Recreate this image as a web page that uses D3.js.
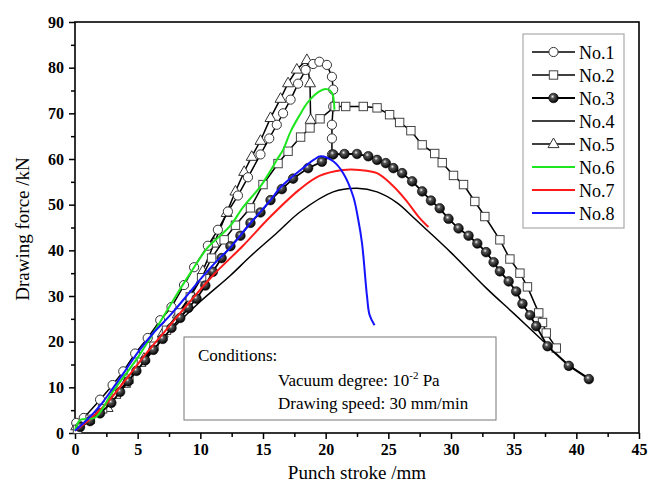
<!DOCTYPE html>
<html>
<head>
<meta charset="utf-8">
<script src="https://cdn.jsdelivr.net/npm/d3@7"></script>
<style>
  body { margin: 0; background: #fff; }
  svg text { font-family: "Liberation Serif", "Times New Roman", serif; fill: #000; }
</style>
</head>
<body>
<svg id="chart"></svg>
<script>
// series values: [stroke mm, force kN]
const no1 = [[0.1,2.2],[0.7,3.3],[2,7.3],[3,10.5],[3.85,13.5],[4.8,17.4],[5.8,20.8],[6.8,24.7],[7.7,27.6],[8.7,32.4],[9.5,36.3],[10.6,41],[11.4,44.5],[12.2,48.5],[13,52],[13.8,56],[14.8,61],[15.5,64.5],[16.1,67.5],[16.6,70],[17.2,73],[17.8,76.5],[18.4,79.5],[19,80.8],[19.5,81.3],[20.1,80.6],[20.5,78],[20.6,75.2],[20.6,71.5],[20.5,67.5],[20.5,64.5],[20.5,61]];
const no2 = [[0.2,0.8],[1.2,3],[2.2,5.3],[3.3,8.5],[4.3,11.8],[5.3,15.5],[6.3,19],[7.3,22.5],[8.3,26.3],[9.2,29.8],[10.1,34],[10.9,38.3],[11.9,42.3],[12.8,45.5],[14,49.3],[15,54.4],[16.2,59],[17,61.7],[18,64.8],[18.75,66.8],[19.55,68.8],[20.75,71.5],[21.6,71.5],[23,71.5],[24.1,71.2],[25.1,69.7],[25.9,68],[26.8,66.2],[27.7,63.1],[28.7,61.2],[29.3,59.2],[30.2,56.4],[31,54.4],[31.9,50.7],[32.7,47.4],[33.9,42.3],[34.7,38.1],[35.5,35],[36.1,32],[37,26.3],[37.3,24.2],[37.6,21.9],[38.4,18.6]];
const no3 = [[0.4,1.3],[1.2,2.6],[2,4.3],[2.9,6.6],[3.6,9],[4.25,11.3],[4.9,13.6],[5.6,15.9],[6.25,18.2],[7,20.6],[7.7,23],[8.4,25.2],[9.05,27.4],[9.7,29.4],[10.4,32.3],[11,35.3],[11.7,38.3],[12.4,40.9],[13.2,43.2],[14,46],[14.8,48.3],[15.6,51],[16.5,53.4],[17.4,55.7],[18.6,58],[19.7,59.4],[20.6,61],[21.5,61.1],[22.5,61.1],[23.4,60.6],[24.1,59.8],[24.8,59.1],[25.4,58],[26.1,56.9],[26.9,55.1],[27.7,52.9],[28.4,50.9],[29.1,49.2],[29.8,46.9],[30.6,44.8],[31.4,43.2],[32.1,41.5],[32.8,39.6],[33.4,37.4],[33.9,35.4],[34.6,33.2],[35.2,31],[35.7,28.3],[36.3,25.8],[36.8,23.4],[37.7,19],[39.4,14.7],[41,11.8]];
const no4 = [[0,0.4],[2,5],[4,11.4],[6.5,19.2],[8,23.5],[10,28.8],[12.4,34.5],[14,38.7],[16.1,43.8],[18,48.5],[20.6,52.8],[22.5,53.6],[24.1,52.8],[25.7,50.4],[27,47.2],[28.1,44.4],[30,39.5],[32.9,31.5],[35,26.2],[37.6,19.5],[39.4,14.9],[41,12]];
const no5 = [[0.1,1.5],[0.9,3],[2.6,5.5],[4,10.8],[5.5,16.3],[7,21.8],[8.2,26],[9.2,30],[10.2,35.5],[11.1,41.5],[12.1,48.2],[12.8,52.9],[13.5,57.2],[14.1,60.5],[14.8,64],[15.6,69],[16.4,73.2],[17,76.6],[17.7,79.6],[18.5,81.7],[18.75,76.6],[18.8,68.6]];
const no6 = [[0,0.5],[0.4,2.8],[1.6,3.4],[3,9],[5,16.5],[6.5,23],[8,29.8],[9.2,35],[10.5,40.3],[11.5,43],[12.4,45.4],[13.4,49.4],[14.8,54],[15.5,57],[16.1,59.8],[16.6,62],[17.2,66],[17.9,69.5],[18.6,72.5],[19.5,74.8],[20.1,75.3],[20.5,74.5],[20.7,70.8]];
const no7 = [[0,0.5],[1,2.6],[2.5,6.4],[4,11.5],[5.5,16.8],[7,21.7],[9,28.2],[11,34.5],[13.4,41],[15.6,47.4],[17.9,53.3],[19.5,56.3],[21.4,57.6],[22.7,57.6],[24.1,56.9],[25.3,54.3],[26.4,51],[27.4,47.4],[28.2,45.1]];
const no8 = [[0,0.5],[1,3],[2,6],[3,9.7],[4,13.6],[5,17.6],[6.25,21.9],[7.6,25.8],[8.9,30],[10.2,34.3],[11.4,37.9],[12.4,40.6],[13.7,45],[15.6,51],[16.4,53.8],[18,57.6],[19.1,59.9],[19.6,60.6],[20.6,59.5],[21.4,56.9],[22.2,51.8],[22.6,46.7],[22.9,41.6],[23.3,29.9],[23.5,25.9],[23.9,23.6]];

const seriesNames = ["No.1", "No.2", "No.3", "No.4", "No.5", "No.6", "No.7", "No.8"];
const seriesData = [no1, no2, no3, no4, no5, no6, no7, no8];
const seriesMarkers = ["circle", "square", "ball", "none", "triangle", "none", "none", "none"];
const seriesColors = ["#000", "#000", "#000", "#000", "#000", "#1ee61e", "#ff1a1a", "#1414ff"];

const xTicks = [0, 5, 10, 15, 20, 25, 30, 35, 40, 45];
const yTicks = [0, 10, 20, 30, 40, 50, 60, 70, 80, 90];

const width = 657, height = 488;
const margin = { top: 22, right: 18, bottom: 55, left: 75 };
const innerW = 639 - margin.left;
const innerH = 433 - margin.top;

const svg = d3.select("#chart").attr("width", width).attr("height", height);

const defs = svg.append("defs");
const grad = defs.append("radialGradient")
    .attr("id", "ball")
    .attr("cx", "40%").attr("cy", "35%").attr("r", "65%");
grad.append("stop").attr("offset", "0%").attr("stop-color", "#f2f2f2");
grad.append("stop").attr("offset", "30%").attr("stop-color", "#555");
grad.append("stop").attr("offset", "100%").attr("stop-color", "#000");

const g = svg.append("g").attr("transform", `translate(${margin.left},${margin.top})`);

const xScale = d3.scaleLinear().domain([0, 45]).range([0, innerW]);
const yScale = d3.scaleLinear().domain([0, 90]).range([innerH, 0]);

// axes: major + minor ticks, outward
function styleAxis(sel) {
    sel.attr("font-family", "Liberation Serif").attr("font-size", 16);
    sel.select(".domain").remove();
    sel.selectAll("line").attr("stroke", "#000").attr("stroke-width", 1.5);
    sel.selectAll("text")
        .attr("font-family", "Liberation Serif")
        .attr("font-weight", "bold")
        .attr("fill", "#111");
}

g.append("g")
    .attr("transform", `translate(0,${innerH})`)
    .call(d3.axisBottom(xScale).tickValues(d3.range(2.5, 45, 5)).tickSize(4).tickFormat(""))
    .call(styleAxis);
g.append("g")
    .attr("transform", `translate(0,${innerH})`)
    .call(d3.axisBottom(xScale).tickValues(xTicks).tickSize(6).tickPadding(5))
    .call(styleAxis);
g.append("g")
    .call(d3.axisLeft(yScale).tickValues(d3.range(5, 90, 10)).tickSize(4).tickFormat(""))
    .call(styleAxis);
g.append("g")
    .call(d3.axisLeft(yScale).tickValues(yTicks).tickSize(6).tickPadding(5))
    .call(styleAxis);

g.append("rect")
    .attr("width", innerW).attr("height", innerH)
    .attr("fill", "none").attr("stroke", "#000").attr("stroke-width", 1.6);

// axis labels
svg.append("text")
    .attr("x", 357).attr("y", 479)
    .attr("text-anchor", "middle")
    .style("font-size", "19px")
    .text("Punch stroke /mm");
svg.append("text")
    .attr("transform", "translate(29,229) rotate(-90)")
    .attr("text-anchor", "middle")
    .style("font-size", "19px")
    .text("Drawing force /kN");

// conditions box
const box = g.append("g").attr("transform", `translate(${184 - margin.left},${337 - margin.top})`);
box.append("rect").attr("width", 312).attr("height", 83)
    .attr("fill", "#fff").attr("stroke", "#777").attr("stroke-width", 1);
box.append("text").attr("x", 14).attr("y", 24).style("font-size", "17px").text("Conditions:");
const vac = box.append("text").attr("x", 94).attr("y", 49).style("font-size", "17px");
vac.append("tspan").text("Vacuum degree: 10");
vac.append("tspan").attr("dy", -7).style("font-size", "11px").text("-2");
vac.append("tspan").attr("dy", 7).text(" Pa");
box.append("text").attr("x", 94).attr("y", 72).style("font-size", "17px").text("Drawing speed: 30 mm/min");

// markers
function drawMarker(sel, type) {
    if (type === "circle") {
        sel.append("circle").attr("r", 4.6).attr("fill", "#fff").attr("stroke", "#333").attr("stroke-width", 1);
    } else if (type === "square") {
        sel.append("rect").attr("x", -4.2).attr("y", -4.2).attr("width", 8.4).attr("height", 8.4)
            .attr("fill", "#fff").attr("stroke", "#444").attr("stroke-width", 1);
    } else if (type === "ball") {
        sel.append("circle").attr("r", 4.8).attr("fill", "url(#ball)").attr("stroke", "#000").attr("stroke-width", 0.6);
    } else if (type === "triangle") {
        sel.append("path").attr("d", "M0,-6L5.5,3.6L-5.5,3.6Z")
            .attr("fill", "#fff").attr("stroke", "#333").attr("stroke-width", 1);
    }
}

const line = d3.line()
    .x(d => xScale(d[0]))
    .y(d => yScale(d[1]));

// draw order: black marked series first, coloured curves on top
const drawOrder = [3, 4, 0, 1, 2, 6, 5, 7];
drawOrder.forEach(i => {
    const data = seriesData[i];
    const isColor = i >= 5;
    g.append("path")
        .datum(data)
        .attr("d", (isColor || i === 3) ? line.curve(d3.curveCatmullRom.alpha(0.5)) : line.curve(d3.curveLinear))
        .attr("fill", "none")
        .attr("stroke", seriesColors[i])
        .attr("stroke-width", isColor ? 2 : (i === 2 ? 1.8 : 1.5));
    if (seriesMarkers[i] !== "none") {
        g.selectAll(null)
            .data(data)
            .enter()
            .append("g")
            .attr("transform", d => `translate(${xScale(d[0])},${yScale(d[1])})`)
            .each(function () { drawMarker(d3.select(this), seriesMarkers[i]); });
    }
});

// legend
const legend = svg.append("g").attr("transform", "translate(523,34)");
legend.append("rect").attr("width", 101).attr("height", 194)
    .attr("fill", "#fff").attr("stroke", "#aaa").attr("stroke-width", 1.2);
seriesNames.forEach((name, i) => {
    const row = legend.append("g").attr("transform", `translate(0,${18 + i * 23})`);
    row.append("line").attr("x1", 9).attr("x2", 52).attr("y1", 0).attr("y2", 0)
        .attr("stroke", seriesColors[i]).attr("stroke-width", i >= 5 ? 2 : (i === 2 ? 1.8 : 1.5));
    if (seriesMarkers[i] !== "none") {
        drawMarker(row.append("g").attr("transform", "translate(30.5,0)"), seriesMarkers[i]);
    }
    row.append("text").attr("x", 56).attr("y", 6.5).style("font-size", "18px").text(name);
});
</script>
</body>
</html>
